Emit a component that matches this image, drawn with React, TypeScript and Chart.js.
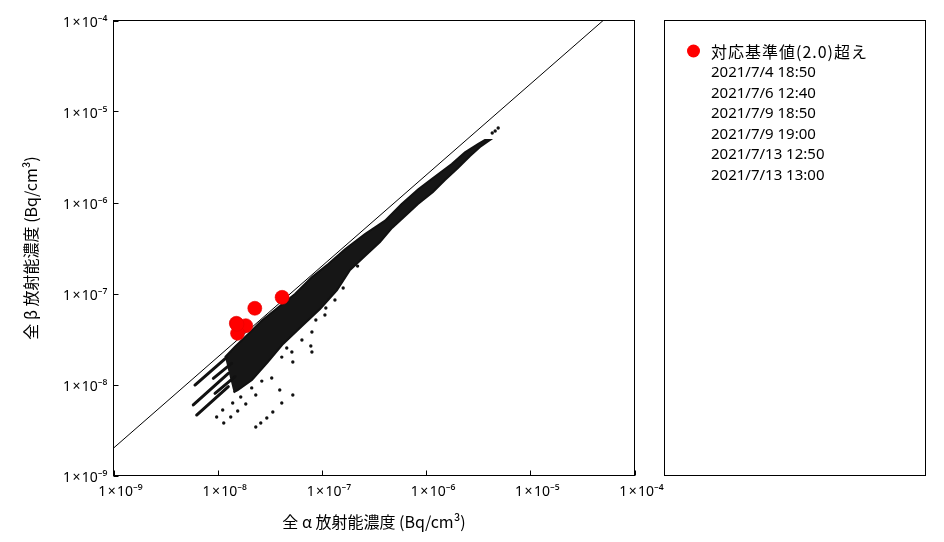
import React, { useEffect, useRef } from 'react';
import { Chart, registerables } from 'chart.js';

Chart.register(...registerables);

// ---- axis decades (tick labels 1×10^e) ----
const decadeExponents = [-9, -8, -7, -6, -5, -4];

// ---- exceedance points (β/α > 2.0) ----
const exceedLabel = '対応基準値(2.0)超え';
const exceedDates = [
  '2021/7/4 18:50',
  '2021/7/6 12:40',
  '2021/7/9 18:50',
  '2021/7/9 19:00',
  '2021/7/13 12:50',
  '2021/7/13 13:00',
];
const exceedAlpha = [4.15e-8, 2.27e-8, 1.51e-8, 1.86e-8, 1.55e-8, 1.53e-8];
const exceedBeta = [9.08e-8, 6.88e-8, 4.71e-8, 4.43e-8, 3.65e-8, 4.6e-8];

// ---- reference line β = 2.0 × α ----
const refLineAlpha = [1e-9, 5e-5];
const refLineBeta = [2e-9, 1e-4];

// ---- dense measurement band: outline (upper edge left→right, lower edge right→left) ----
const bandUpperAlpha = [
  1.175e-8, 1.466e-8, 1.968e-8, 2.64e-8, 3.82e-8, 5.52e-8, 7.98e-8, 1.151e-7, 1.667e-7,
  2.59e-7, 4.04e-7, 5.83e-7, 8.41e-7, 1.132e-6, 1.762e-6, 2.36e-6, 3.17e-6, 3.67e-6,
];
const bandUpperBeta = [
  1.99e-8, 2.61e-8, 3.59e-8, 5.02e-8, 7.05e-8, 9.89e-8, 1.507e-7, 2.11e-7, 3.06e-7,
  4.51e-7, 6.31e-7, 9.64e-7, 1.396e-6, 1.81e-6, 2.65e-6, 3.56e-6, 4.4e-6, 4.86e-6,
];
const bandLowerAlpha = [
  4.1e-6, 3.29e-6, 2.64e-6, 2.02e-6, 1.517e-6, 1.164e-6, 8.36e-7, 6.28e-7, 4.71e-7, 3.61e-7,
  2.59e-7, 1.862e-7, 1.396e-7, 9.6e-8, 6.44e-8, 4.24e-8, 3.04e-8, 2.13e-8, 1.567e-8, 1.42e-8,
];
const bandLowerBeta = [
  4.86e-6, 4.07e-6, 3.24e-6, 2.39e-6, 1.766e-6, 1.303e-6, 9.64e-7, 7.11e-7, 5.25e-7, 3.68e-7,
  2.58e-7, 1.81e-7, 1.091e-7, 6.76e-8, 4.4e-8, 2.79e-8, 1.77e-8, 1.12e-8, 8.71e-9, 8.2e-9,
];

// ---- low-concentration streaks (rows of points) ----
const streakStartAlpha = [6.05e-9, 5.83e-9, 6.28e-9, 9.08e-9, 9.42e-9];
const streakStartBeta = [9.87e-9, 5.96e-9, 4.62e-9, 1.17e-8, 8.0e-9];
const streakEndAlpha = [1.219e-8, 1.265e-8, 1.265e-8, 1.36e-8, 1.466e-8];
const streakEndBeta = [1.99e-8, 1.327e-8, 9.46e-9, 1.71e-8, 1.22e-8];

// ---- scattered individual points ----
const outlierAlpha = [
  1.334e-7, 1.091e-7, 1.069e-7, 8.75e-8, 8.02e-8, 6.43e-8, 7.83e-8, 8.02e-8, 5.15e-8, 4.6e-8,
  4.12e-8, 5.26e-8, 3.94e-8, 5.26e-8, 4.12e-8, 3.38e-8, 2.96e-8, 2.59e-8, 2.32e-8, 2.32e-8,
  1.86e-8, 1.556e-8, 1.334e-8, 1.143e-8, 9.77e-9, 3.3e-8, 2.65e-8, 2.12e-8, 1.664e-8, 1.393e-8,
  1.117e-8, 4.92e-6, 4.6e-6, 4.31e-6, 1.6e-7, 2.2e-7,
];
const outlierBeta = [
  8.49e-8, 6.94e-8, 5.81e-8, 5.12e-8, 3.78e-8, 3.08e-8, 2.65e-8, 2.28e-8, 2.28e-8, 2.52e-8,
  2.0e-8, 1.77e-8, 8.71e-9, 7.67e-9, 6.26e-9, 4.99e-9, 4.29e-9, 3.78e-9, 3.41e-9, 7.67e-9,
  6.11e-9, 5.12e-9, 4.4e-9, 3.78e-9, 4.4e-9, 1.18e-8, 1.09e-8, 9.17e-9, 7.3e-9, 6.26e-9,
  5.25e-9, 6.59e-6, 6.11e-6, 5.81e-6, 1.15e-7, 2.0e-7,
];

const xTitle = '全 α 放射能濃度 (Bq/cm³)';
const yTitle = '全 β 放射能濃度 (Bq/cm³)';

const SUP: Record<string, string> = {
  '-': '⁻', '0': '⁰', '1': '¹', '2': '²', '3': '³', '4': '⁴', '5': '⁵', '6': '⁶', '7': '⁷', '8': '⁸', '9': '⁹',
};
function decadeLabel(v: number): string {
  const e = Math.round(Math.log10(v));
  return '1\u200A×\u200A10' + String(e).split('').map((c) => SUP[c] || c).join('');
}

const JP = "'Noto Sans CJK JP', 'Noto Sans', sans-serif";
const LAT = "'Noto Sans', 'Noto Sans CJK JP', sans-serif";

const framePlugin = {
  id: 'frameAndLegend',
  afterDatasetsDraw(chart: any) {
    const { ctx, chartArea } = chart;
    const xs = chart.scales.x;
    const ys = chart.scales.y;
    ctx.save();
    ctx.strokeStyle = '#000';
    ctx.lineWidth = 1;
    ctx.strokeRect(chartArea.left, chartArea.top, chartArea.right - chartArea.left, chartArea.bottom - chartArea.top);
    ctx.beginPath();
    for (const e of decadeExponents) {
      const px = Math.round(xs.getPixelForValue(Math.pow(10, e))) + 0.5;
      ctx.moveTo(px, chartArea.bottom);
      ctx.lineTo(px, chartArea.bottom - 5);
      const py = Math.round(ys.getPixelForValue(Math.pow(10, e))) + 0.5;
      ctx.moveTo(chartArea.left, py);
      ctx.lineTo(chartArea.left + 5, py);
    }
    ctx.stroke();
    ctx.restore();
  },
  afterDraw(chart: any) {
    const { ctx } = chart;
    ctx.save();
    ctx.strokeStyle = '#000';
    ctx.lineWidth = 1;
    ctx.strokeRect(664.5, 20.5, 261, 455);
    ctx.fillStyle = '#ff0000';
    ctx.beginPath();
    ctx.arc(693.5, 51, 6.5, 0, Math.PI * 2);
    ctx.fill();
    ctx.fillStyle = '#000';
    ctx.textBaseline = 'middle';
    ctx.textAlign = 'left';
    ctx.font = `16px ${JP}`;
    (ctx as any).letterSpacing = '1px';
    ctx.fillText(exceedLabel, 711, 52);
    (ctx as any).letterSpacing = '0px';
    ctx.font = `15px ${LAT}`;
    exceedDates.forEach((d, i) => {
      ctx.fillText(d, 711, 73 + i * 20.5);
    });
    ctx.restore();
  },
};

export default function App() {
  const ref = useRef<HTMLCanvasElement | null>(null);

  useEffect(() => {
    const canvas = ref.current;
    if (!canvas) return;

    const bandPolygon = [
      ...bandUpperAlpha.map((x, i) => ({ x, y: bandUpperBeta[i] })),
      ...bandLowerAlpha.map((x, i) => ({ x, y: bandLowerBeta[i] })),
    ];
    const streakSets = streakStartAlpha.map((x0, i) => ({
      label: 'streak' + i,
      data: [
        { x: x0, y: streakStartBeta[i] },
        { x: streakEndAlpha[i], y: streakEndBeta[i] },
      ],
      showLine: true,
      borderColor: '#111',
      borderWidth: 3,
      borderCapStyle: 'round',
      pointRadius: 0,
      fill: false,
    }));

    const tickFont = { family: LAT, size: 14 };
    const titleFont = { family: JP, size: 16 };

    const chart = new Chart(canvas, {
      type: 'scatter',
      data: {
        datasets: [
          {
            label: exceedLabel,
            data: exceedAlpha.map((x, i) => ({ x, y: exceedBeta[i] })),
            pointRadius: 7,
            pointHoverRadius: 7,
            backgroundColor: '#ff0000',
            borderColor: '#e60000',
            borderWidth: 0.6,
          },
          {
            label: 'ref',
            data: refLineAlpha.map((x, i) => ({ x, y: refLineBeta[i] })),
            showLine: true,
            borderColor: '#000',
            borderWidth: 1,
            pointRadius: 0,
          },
          {
            label: 'points',
            data: outlierAlpha.map((x, i) => ({ x, y: outlierBeta[i] })),
            pointRadius: 1.7,
            backgroundColor: '#111',
            borderWidth: 0,
          },
          ...(streakSets as any[]),
          {
            label: 'band',
            data: bandPolygon,
            showLine: true,
            fill: 'shape',
            backgroundColor: '#161616',
            borderColor: '#111',
            borderWidth: 2,
            pointRadius: 0,
          },
        ],
      },
      options: {
        responsive: false,
        animation: false,
        devicePixelRatio: 1,
        layout: { padding: { left: 0, top: 20.5, right: 309.5, bottom: 0 } },
        plugins: { legend: { display: false }, tooltip: { enabled: false } },
        scales: {
          x: {
            type: 'logarithmic',
            position: 'bottom',
            min: 1e-9,
            max: 1e-4,
            afterBuildTicks: (s: any) => {
              s.ticks = decadeExponents.map((e) => ({ value: Math.pow(10, e) }));
            },
            afterFit: (s: any) => {
              s.height = 66.5;
            },
            grid: { display: false, drawTicks: false },
            border: { display: false },
            ticks: {
              callback: (v: any) => decadeLabel(Number(v)),
              font: tickFont,
              color: '#000',
              padding: 8,
              labelOffset: 7,
              maxRotation: 0,
              autoSkip: false,
            },
            title: {
              display: true,
              text: xTitle,
              font: titleFont,
              color: '#000',
              padding: { top: 0, bottom: 10 },
            },
          },
          y: {
            type: 'logarithmic',
            position: 'left',
            min: 1e-9,
            max: 1e-4,
            afterBuildTicks: (s: any) => {
              s.ticks = decadeExponents.map((e) => ({ value: Math.pow(10, e) }));
            },
            afterFit: (s: any) => {
              s.width = 113.5;
            },
            grid: { display: false, drawTicks: false },
            border: { display: false },
            ticks: {
              callback: (v: any) => decadeLabel(Number(v)),
              font: tickFont,
              color: '#000',
              padding: 6,
              labelOffset: 3,
              autoSkip: false,
            },
            title: {
              display: true,
              text: yTitle,
              font: titleFont,
              color: '#000',
              padding: { top: 21, bottom: 0 },
            },
          },
        },
      },
      plugins: [framePlugin],
    } as any);

    return () => chart.destroy();
  }, []);

  return (
    <div style={{ position: 'fixed', left: 0, top: 0, width: 944, height: 542, background: '#fff' }}>
      <canvas ref={ref} width={944} height={542} style={{ width: 944, height: 542 }} />
    </div>
  );
}
